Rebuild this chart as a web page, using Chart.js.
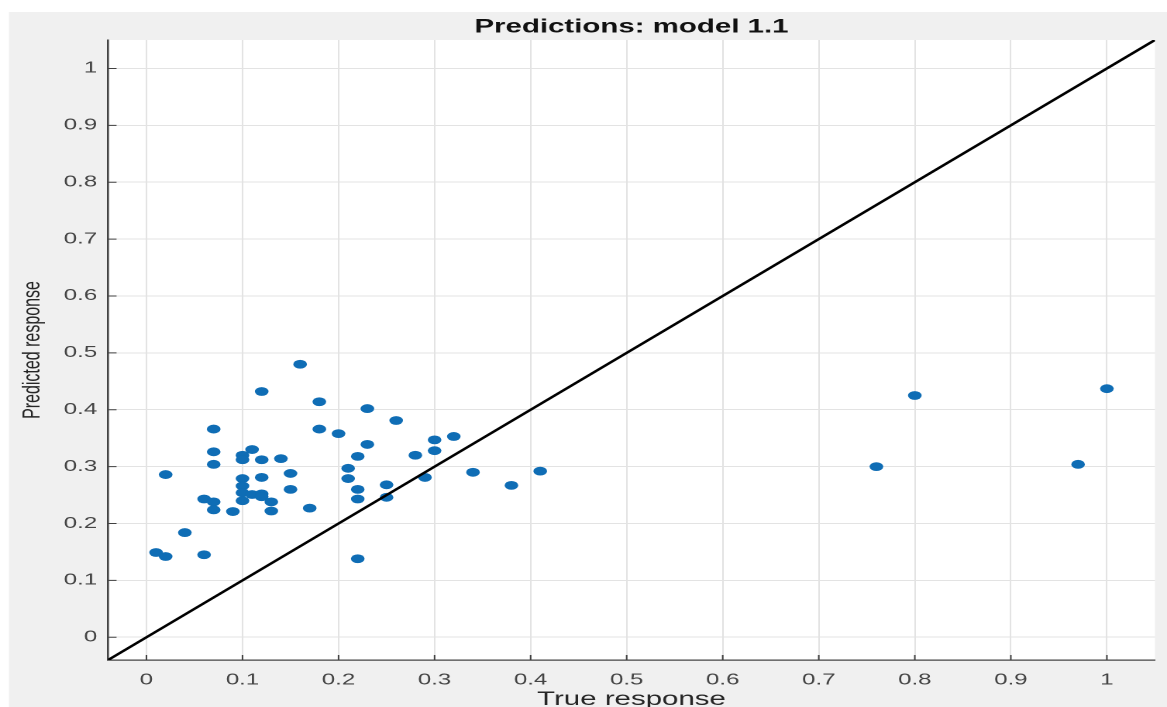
<!DOCTYPE html>
<html>
<head>
<meta charset="utf-8">
<title>Predictions: model 1.1</title>
<script src="https://cdn.jsdelivr.net/npm/chart.js@4.4.1/dist/chart.umd.min.js"></script>
<style>
  html, body { margin: 0; padding: 0; overflow: hidden; background: #fff; }
  /* the reference figure is stretched sideways, so draw narrow and scale it out */
  #wrap { width: 753px; height: 720px; transform: scaleX(1.5498); transform-origin: 0 0; }
</style>
</head>
<body>
<div id="wrap"><canvas id="chart"></canvas></div>
<script>
// true vs predicted response
const trueResponse = [
  0.16, 0.12, 0.18, 0.23, 0.26, 0.07, 0.18, 0.20, 0.23, 0.07,
  0.11, 0.10, 0.10, 0.12, 0.14, 0.22, 0.07, 0.21, 0.02, 0.15,
  0.10, 0.12, 0.21, 0.25, 0.15, 0.10, 0.10, 0.11, 0.12, 0.22,
  0.25, 0.06, 0.07, 0.10, 0.12, 0.13, 0.22, 0.07, 0.09, 0.13,
  0.17, 0.04, 0.01, 0.02, 0.06, 0.22, 0.30, 0.32, 0.28, 0.30,
  0.29, 0.34, 0.41, 0.38, 0.80, 1.00, 0.76, 0.97
];
const predictedResponse = [
  0.480, 0.432, 0.414, 0.402, 0.381, 0.366, 0.366, 0.358, 0.339, 0.326,
  0.330, 0.320, 0.312, 0.312, 0.314, 0.318, 0.304, 0.297, 0.286, 0.288,
  0.279, 0.281, 0.279, 0.268, 0.260, 0.266, 0.254, 0.251, 0.252, 0.260,
  0.246, 0.243, 0.238, 0.240, 0.247, 0.238, 0.243, 0.224, 0.221, 0.222,
  0.227, 0.184, 0.149, 0.142, 0.145, 0.138, 0.347, 0.353, 0.320, 0.328,
  0.281, 0.290, 0.292, 0.267, 0.425, 0.437, 0.300, 0.304
];
const tickValues = [0, 0.1, 0.2, 0.3, 0.4, 0.5, 0.6, 0.7, 0.8, 0.9, 1];
const axisLimits = [-0.04, 1.05];

const points = trueResponse.map((x, i) => ({ x, y: predictedResponse[i] }));
const diagonal = axisLimits.map(v => ({ x: v, y: v }));

Chart.defaults.font.family = "'Liberation Sans', Arial, sans-serif";

const figureBg = {
  id: "figureBg",
  beforeDraw(chart) {
    const { ctx, width, height, chartArea: a } = chart;
    ctx.save();
    ctx.fillStyle = "#fff";
    ctx.fillRect(0, 0, width, height);
    ctx.fillStyle = "#f0f0f0";
    ctx.fillRect(5.8, 12, width, height);
    ctx.fillStyle = "#fff";
    ctx.fillRect(a.left, a.top, a.right - a.left, a.bottom - a.top);
    ctx.restore();
  }
};

// matlab style ticks pointing into the axes
const innerTicks = {
  id: "innerTicks",
  beforeDatasetsDraw(chart) {
    const { ctx, chartArea: a, scales: { x, y } } = chart;
    ctx.save();
    ctx.strokeStyle = "#404040";
    ctx.lineWidth = 1;
    ctx.beginPath();
    x.ticks.forEach(t => {
      const px = x.getPixelForValue(t.value);
      ctx.moveTo(px, a.bottom);
      ctx.lineTo(px, a.bottom - 5);
    });
    y.ticks.forEach(t => {
      const py = y.getPixelForValue(t.value);
      ctx.moveTo(a.left, py);
      ctx.lineTo(a.left + 5.5, py);
    });
    ctx.stroke();
    ctx.restore();
  }
};

const gridColor = "#e3e3e3";
const axisColor = "#444";

new Chart(document.getElementById("chart"), {
  type: "scatter",
  data: {
    datasets: [
      {
        data: diagonal,
        showLine: true,
        borderColor: "#000",
        borderWidth: 2.2,
        pointRadius: 0,
        order: 0
      },
      {
        data: points,
        backgroundColor: "#0f6db5",
        borderWidth: 0,
        pointRadius: 4.4,
        pointHoverRadius: 4.4,
        order: 1
      }
    ]
  },
  options: {
    responsive: true,
    maintainAspectRatio: false,
    devicePixelRatio: 2,
    animation: false,
    layout: { padding: { left: 0, right: 7.8, top: 0, bottom: 0 } },
    plugins: {
      legend: { display: false },
      tooltip: { enabled: false },
      title: {
        display: true,
        fullSize: false,
        text: "Predictions: model 1.1",
        color: "#111",
        font: { size: 19, weight: "bold" },
        padding: { top: 16, bottom: 1.2 }
      }
    },
    scales: {
      x: {
        type: "linear",
        min: axisLimits[0],
        max: axisLimits[1],
        afterBuildTicks: s => { s.ticks = tickValues.map(value => ({ value })); },
        afterFit: s => { s.height = 60; },
        ticks: { color: axisColor, font: { size: 15.5 }, padding: 11, maxRotation: 0, callback: v => `${v}` },
        grid: { color: gridColor, drawTicks: false },
        border: { display: true, color: axisColor, width: 1.3 },
        title: {
          display: true,
          text: "True response",
          color: "#262626",
          font: { size: 19 },
          padding: { top: 0, bottom: 8.6 }
        }
      },
      y: {
        type: "linear",
        min: axisLimits[0],
        max: axisLimits[1],
        afterBuildTicks: s => { s.ticks = tickValues.map(value => ({ value })); },
        afterFit: s => { s.width = 69.7; },
        ticks: { color: axisColor, font: { size: 15.5 }, padding: 7, callback: v => `${v}` },
        grid: { color: gridColor, drawTicks: false },
        border: { display: true, color: axisColor, width: 1.3 },
        title: {
          display: true,
          text: "Predicted response",
          color: "#262626",
          font: { size: 16 },
          padding: { top: 11.7, bottom: 0 }
        }
      }
    }
  },
  plugins: [figureBg, innerTicks]
});
</script>
</body>
</html>
